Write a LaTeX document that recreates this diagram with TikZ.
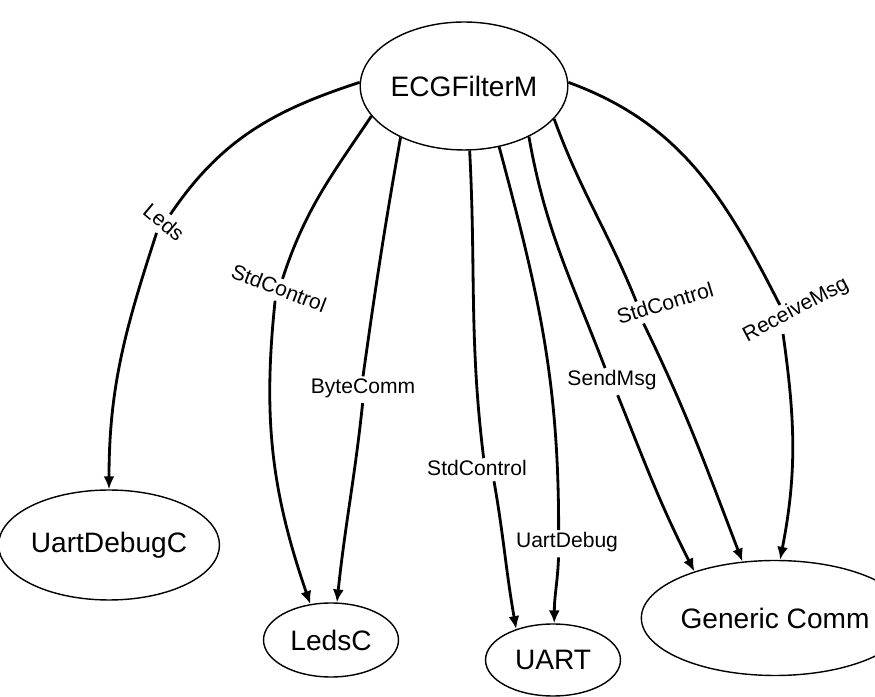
\documentclass[tikz,border=0pt]{standalone}
\usepackage{fontspec}
\setmainfont{Liberation Sans}
\usetikzlibrary{shapes.geometric,arrows.meta}

\begin{document}
\begin{tikzpicture}[x=0.02cm,y=0.02cm,
    comp/.style={draw, ellipse, line width=0.8pt, inner sep=0pt, font=\fontsize{16}{19}\selectfont},
    lbl/.style={inner sep=1pt, font=\fontsize{12}{14}\selectfont},
    wire/.style={line width=1.6pt, shorten <=2pt, -{Latex[length=2.6mm,width=2.2mm]}}]
    \useasboundingbox (0,0) rectangle (875,696);

    \node[comp, minimum width=4.04cm, minimum height=2.56cm] (ECG) at (464,610) {ECGFilterM};
    \node[comp, minimum width=4.04cm, minimum height=2.2cm] (UDC) at (109,151) {UartDebugC};
    \node[comp, minimum width=2.7cm, minimum height=1.48cm] (LedsC) at (331,56) {LedsC};
    \node[comp, minimum width=2.7cm, minimum height=1.44cm] (UART) at (553,36) {UART};
    \node[comp, minimum width=4cm, minimum height=2.3cm] (GC) at (775,78) {Generic Comm};

    % etiquetas de las interfaces
    \node[lbl, rotate=-40] (lLeds) at (164,474) {Leds};
    \node[lbl, rotate=-21] (lStd1) at (279,408) {StdControl};
    \node[lbl] (lByte) at (363,308) {ByteComm};
    \node[lbl] (lStd2) at (477,228) {StdControl};
    \node[lbl] (lUDbg) at (567,154) {UartDebug};
    \node[lbl] (lSend) at (612,316) {SendMsg};
    \node[lbl, rotate=17] (lStd3) at (665,393) {StdControl};
    \node[lbl, rotate=28] (lRecv) at (796,386) {ReceiveMsg};

    \draw[wire] (ECG.178) to[out=198,in=56] (lLeds.north) (lLeds.south) to[out=252,in=90] (UDC.north);
    \draw[wire] (ECG.198) to[out=236,in=72] (lStd1.north) (lStd1.south) to[out=264,in=109] (LedsC.120);
    \draw[wire] (ECG.219) to[out=260,in=82] (lByte.north) (lByte.south) to[out=264,in=84] (LedsC.81);
    \draw[wire] (ECG.275) to[out=273,in=97] (lStd2.56) (lStd2.329) to[out=280,in=100] (UART.140);
    \draw[wire] (ECG.300) to[out=285,in=90] (lUDbg.125) (lUDbg.235) to[out=268,in=90] (UART.88);
    \draw[wire] (ECG.322) to[out=280,in=111] (lSend.120) (lSend.290) to[out=292,in=117] (GC.150);
    \draw[wire] (ECG.340) to[out=290,in=112] (lStd3.160) (lStd3.200) to[out=296,in=111] (GC.120);
    \draw[wire] (ECG.2) to[out=340,in=117] (lRecv.135) (lRecv.209) to[out=278,in=79] (GC.85);
\end{tikzpicture}
\end{document}
